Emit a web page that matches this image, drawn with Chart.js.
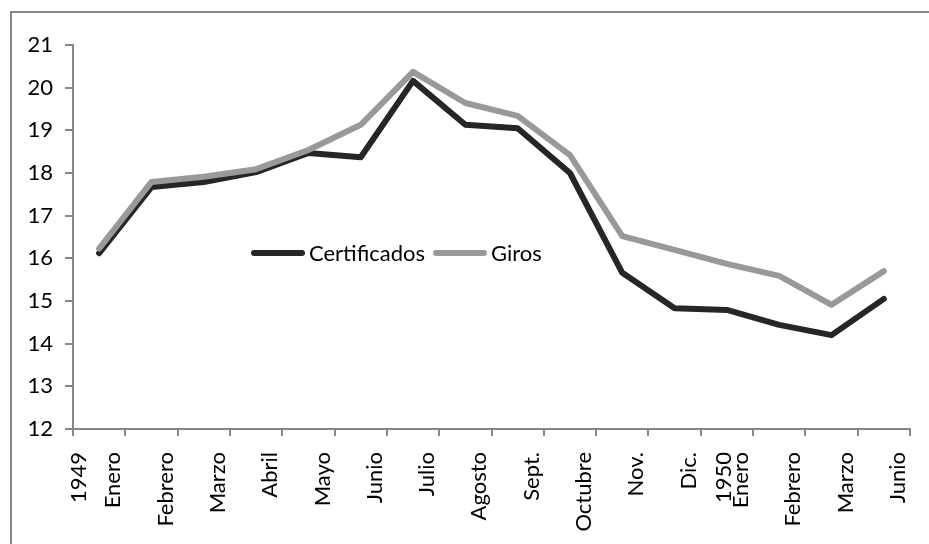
<!DOCTYPE html>
<html lang="es">
<head>
  <meta charset="UTF-8" />
  <title>Certificados y Giros</title>
  <script src="https://cdn.jsdelivr.net/npm/chart.js"></script>
  <style>
    html, body { margin: 0; padding: 0; background: #fff; overflow: hidden; }
    #chart { display: block; }
  </style>
</head>
<body>
  <canvas id="chart" width="929" height="544"></canvas>

  <script>
    // meses, 1949 - 1950
    const meses = [
      ['1949', '', 'Enero'], 'Febrero', 'Marzo', 'Abril', 'Mayo', 'Junio', 'Julio', 'Agosto',
      'Sept.', 'Octubre', 'Nov.', 'Dic.', ['', '1950', 'Enero'], 'Febrero', 'Marzo', 'Junio'
    ];
    const certificados = [16.12, 17.67, 17.79, 18.02, 18.47, 18.37, 20.16, 19.13,
                          19.05, 18.0, 15.66, 14.83, 14.79, 14.44, 14.2, 15.05];
    const giros = [16.23, 17.79, 17.91, 18.09, 18.54, 19.13, 20.37, 19.64,
                   19.34, 18.42, 16.52, 16.2, 15.87, 15.59, 14.91, 15.7];
    const yTicks = [12, 13, 14, 15, 16, 17, 18, 19, 20, 21];

    const FONT = 'Lato, "Open Sans", sans-serif';
    const AXIS = '#868686';

    // marco gris + leyenda dentro del área del gráfico
    const marco = {
      id: 'marco',
      beforeDraw(chart) {
        const ctx = chart.ctx;
        ctx.save();
        ctx.strokeStyle = '#878787';
        ctx.lineWidth = 2;
        ctx.strokeRect(11, 12, 940, 560);
        ctx.restore();
      },
      afterDraw(chart) {
        const ctx = chart.ctx;
        const y = 253;
        let x = 254;
        ctx.save();
        ctx.font = '22px ' + FONT;
        ctx.textBaseline = 'middle';
        ctx.lineCap = 'round';
        ctx.lineWidth = 6;
        chart.data.datasets.forEach(ds => {
          ctx.strokeStyle = ds.borderColor;
          ctx.beginPath();
          ctx.moveTo(x, y);
          ctx.lineTo(x + 48, y);
          ctx.stroke();
          x += 55;
          ctx.fillStyle = '#000';
          ctx.fillText(ds.label, x, y + 1);
          x += ctx.measureText(ds.label).width + 11;
        });
        ctx.restore();
      }
    };

    new Chart(document.getElementById('chart'), {
      type: 'line',
      data: {
        labels: meses,
        datasets: [
          {
            label: 'Certificados',
            data: certificados,
            borderColor: '#262626',
            borderWidth: 6,
            order: 1
          },
          {
            label: 'Giros',
            data: giros,
            borderColor: '#999999',
            borderWidth: 6,
            order: 0
          }
        ]
      },
      options: {
        responsive: false,
        animation: false,
        layout: { padding: { left: 0, top: 45, right: 19, bottom: 0 } },
        elements: {
          point: { radius: 0 },
          line: { tension: 0, borderJoinStyle: 'round', borderCapStyle: 'round' }
        },
        plugins: {
          legend: { display: false },
          tooltip: { enabled: false }
        },
        scales: {
          x: {
            offset: true,
            afterFit(scale) {
              scale.height = 115;
              scale.paddingLeft = 0;
              scale.paddingRight = 0;
            },
            grid: { offset: true, drawOnChartArea: false, tickLength: 7, color: AXIS, lineWidth: 2 },
            border: { color: AXIS, width: 2 },
            ticks: {
              autoSkip: false,
              minRotation: 90,
              maxRotation: 90,
              padding: 16,
              labelOffset: -20,
              color: '#000',
              font: { family: FONT, size: 22, lineHeight: '17px' },
              callback(value, i) {
                const m = meses[i];
                return Array.isArray(m) ? m : ['', '', m];
              }
            }
          },
          y: {
            min: yTicks[0],
            max: yTicks[yTicks.length - 1],
            afterFit(scale) {
              scale.width = 73;
              scale.paddingTop = 0;
              scale.paddingBottom = 0;
            },
            afterBuildTicks(scale) {
              scale.ticks = yTicks.map(v => ({ value: v }));
            },
            grid: { drawOnChartArea: false, tickLength: 8, color: AXIS, lineWidth: 2 },
            border: { color: AXIS, width: 2 },
            ticks: {
              padding: 12,
              color: '#000',
              font: { family: FONT, size: 22 }
            }
          }
        }
      },
      plugins: [marco]
    });
  </script>
</body>
</html>
